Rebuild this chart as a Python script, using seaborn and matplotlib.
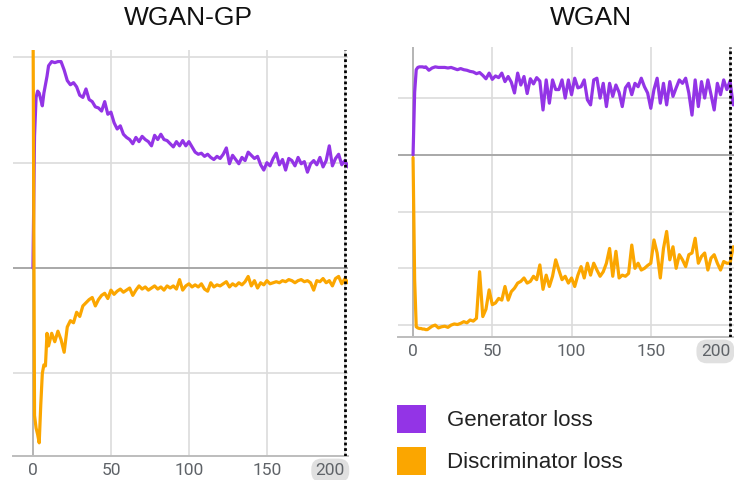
import matplotlib
matplotlib.use("Agg")
import matplotlib.pyplot as plt
import seaborn as sns
import pandas as pd
from matplotlib.patches import Patch

# ---------------- data ----------------
epochs = list(range(0, 11)) + list(range(12, 203, 2))

gp_generator = [
    0.00, 1.25, 1.62, 1.68, 1.66, 1.60, 1.54, 1.66, 1.74, 1.82, 1.92,
    1.96, 1.95, 1.96, 1.96, 1.88,
    1.78, 1.74, 1.76, 1.72, 1.64,
    1.62, 1.70, 1.60, 1.58, 1.53,
    1.52, 1.49, 1.58, 1.46, 1.48,
    1.38, 1.32, 1.35, 1.27, 1.24,
    1.22, 1.18, 1.24, 1.20, 1.25,
    1.22, 1.20, 1.16, 1.26, 1.22,
    1.27, 1.22, 1.21, 1.18, 1.15,
    1.20, 1.16, 1.21, 1.16, 1.20,
    1.15, 1.10, 1.08, 1.09, 1.06,
    1.08, 1.05, 1.03, 1.06, 1.04,
    1.08, 1.14, 0.99, 1.07, 1.03,
    0.99, 1.05, 1.02, 1.10, 1.07,
    1.04, 1.06, 0.98, 0.93, 1.00,
    0.97, 1.04, 1.09, 0.98, 1.03,
    0.93, 1.04, 1.02, 0.97, 1.05,
    0.99, 1.01, 0.91, 0.99, 1.02,
    0.98, 1.05, 0.96, 1.02, 1.16,
    0.97, 1.04, 1.08, 0.98, 1.02,
    0.96,
]

gp_discriminator = [
    2.60, -1.40, -1.52, -1.58, -1.66, -1.30, -1.00, -0.92, -0.93, -0.62, -0.74,
    -0.62, -0.70, -0.60, -0.68, -0.80,
    -0.56, -0.50, -0.52, -0.42, -0.46,
    -0.36, -0.33, -0.30, -0.28, -0.36,
    -0.30, -0.26, -0.24, -0.29, -0.21,
    -0.25, -0.22, -0.20, -0.23, -0.21,
    -0.19, -0.26, -0.21, -0.17, -0.20,
    -0.18, -0.21, -0.19, -0.17, -0.20,
    -0.18, -0.21, -0.17, -0.19, -0.17,
    -0.20, -0.11, -0.21, -0.17, -0.15,
    -0.18, -0.16, -0.18, -0.15, -0.20,
    -0.22, -0.14, -0.18, -0.16, -0.17,
    -0.15, -0.13, -0.18, -0.15, -0.17,
    -0.14, -0.16, -0.13, -0.08, -0.17,
    -0.12, -0.19, -0.14, -0.16, -0.12,
    -0.15, -0.14, -0.13, -0.14, -0.12,
    -0.13, -0.11, -0.12, -0.14, -0.12,
    -0.11, -0.13, -0.12, -0.14, -0.21,
    -0.12, -0.13, -0.10, -0.14, -0.12,
    -0.17, -0.10, -0.08, -0.15, -0.10,
    -0.14,
]

wgan_generator = [
    0.00, 1.10, 1.50, 1.54, 1.55, 1.55, 1.55, 1.54, 1.55, 1.52, 1.49,
    1.53, 1.55, 1.54, 1.54, 1.54,
    1.53, 1.54, 1.52, 1.50, 1.52,
    1.50, 1.49, 1.47, 1.46, 1.43,
    1.45, 1.40, 1.34, 1.44, 1.33,
    1.39, 1.36, 1.44, 1.29, 1.38,
    1.28, 1.09, 1.44, 1.23, 1.38,
    1.08, 1.34, 1.25, 1.36, 1.30,
    0.79, 1.32, 0.91, 1.32, 1.15,
    1.15, 1.32, 1.00, 1.32, 1.06,
    1.35, 1.18, 1.20, 1.32, 0.97,
    0.88, 1.32, 1.35, 1.00, 1.26,
    0.85, 1.26, 1.03, 1.23, 1.10,
    0.85, 1.18, 1.26, 1.06, 1.26,
    1.20, 1.35, 1.20, 1.09, 0.82,
    1.15, 1.35, 0.91, 1.26, 0.88,
    1.29, 1.03, 1.18, 1.32, 1.26,
    1.35, 1.09, 0.70, 1.32, 0.85,
    1.29, 1.00, 1.32, 1.06, 0.79,
    1.26, 1.06, 1.32, 1.15, 1.30,
    0.88,
]

wgan_discriminator = [
    -0.05, -2.20, -3.03, -3.05, -3.06, -3.06, -3.07, -3.07, -3.08, -3.08, -3.06,
    -3.02, -3.00, -3.05, -3.03, -3.02,
    -3.04, -3.00, -2.98, -2.99, -2.97,
    -2.94, -2.96, -2.91, -2.93, -2.88,
    -2.06, -2.85, -2.72, -2.38, -2.64,
    -2.61, -2.53, -2.56, -2.32, -2.56,
    -2.41, -2.35, -2.26, -2.23, -2.17,
    -2.26, -2.23, -2.14, -2.20, -1.94,
    -2.37, -2.12, -2.32, -2.14, -1.85,
    -2.03, -2.20, -2.14, -2.26, -2.17,
    -2.32, -2.12, -1.97, -2.17, -1.91,
    -2.12, -1.91, -2.03, -2.14, -2.06,
    -1.91, -1.65, -2.14, -1.70, -2.17,
    -2.12, -2.14, -2.09, -1.59, -2.00,
    -1.91, -2.03, -2.00, -1.95, -1.91,
    -1.50, -1.73, -2.17, -1.65, -1.35,
    -1.85, -1.62, -2.00, -1.76, -1.85,
    -1.97, -1.76, -1.73, -1.47, -1.91,
    -1.79, -1.73, -2.03, -1.82, -1.76,
    -1.91, -2.03, -1.88, -1.91, -1.91,
    -1.62,
]

series_names = ["Generator loss", "Discriminator loss"]
panel_titles = ["WGAN-GP", "WGAN"]
tick_values = [0, 50, 100, 150, 200]
tick_labels = ["0", "50", "100", "150", "200"]

# ---------------- style ----------------
sns.set_theme(style="white")
plt.rcParams["font.family"] = ["Liberation Sans", "DejaVu Sans"]

PURPLE = "#9334E6"
ORANGE = "#FBA600"
palette = {series_names[0]: PURPLE, series_names[1]: ORANGE}

fig = plt.figure(figsize=(7.34, 4.8), dpi=100)
W, H = 734, 480

def px_axes(x0, y0, x1, y1):
    return fig.add_axes([x0 / W, 1 - y1 / H, (x1 - x0) / W, (y1 - y0) / H])

ax1 = px_axes(13, 50, 348, 456)
ax2 = px_axes(398, 47, 734, 337)

panels = [
    (ax1, gp_generator, gp_discriminator, (-12.8, 202.0), (-1.785, 2.07), [-1, 0, 1, 2]),
    (ax2, wgan_generator, wgan_discriminator, (-9.5, 202.5), (-3.21, 1.90), [-3, -2, -1, 0, 1]),
]

for ax, gen, disc, xl, yl, yt in panels:
    n = len(epochs)
    df = pd.DataFrame({
        "epoch": epochs + epochs,
        "loss": gen + disc,
        "series": [series_names[0]] * n + [series_names[1]] * n,
    })
    ax.set_xticks(tick_values)
    ax.set_yticks(yt)
    ax.grid(True, color="#dcdcdc", lw=1.2)
    ax.set_axisbelow(True)
    ax.axhline(0, color="#a9a9a9", lw=1.4, zorder=1)
    ax.axvline(0, color="#b5b5b5", lw=1.4, zorder=1)
    sns.lineplot(data=df, x="epoch", y="loss", hue="series", hue_order=series_names,
                 palette=palette, estimator=None, lw=2.3, ax=ax, legend=False, zorder=3)
    ax.axvline(200, color="black", lw=2.0, ls=(0, (1, 1)), zorder=4)
    ax.set_xlim(*xl)
    ax.set_ylim(*yl)
    ax.set_xlabel("")
    ax.set_ylabel("")
    ax.set_yticklabels([])
    ax.set_xticklabels(tick_labels)
    for s in ["top", "left", "right"]:
        ax.spines[s].set_visible(False)
    ax.spines["bottom"].set_color("#bdbdbd")
    ax.spines["bottom"].set_linewidth(1.4)
    ax.tick_params(axis="x", length=0, pad=5, labelsize=12.5, labelcolor="#5f6368")
    ax.tick_params(axis="y", length=0)
    for lab in ax.get_xticklabels():
        lab.set_fontfamily(["Roboto", "DejaVu Sans"])
        if lab.get_text() == "200":
            lab.set_ha("right")
            lab.set_bbox(dict(boxstyle="round,pad=0.25,rounding_size=0.6",
                              fc="#e0e0e0", ec="none"))

fig.text(188 / W, 1 - 18 / H, panel_titles[0], ha="center", va="center",
         fontsize=19, color="#111111")
fig.text(591 / W, 1 - 18 / H, panel_titles[1], ha="center", va="center",
         fontsize=19, color="#111111")

handles = [Patch(facecolor=PURPLE, edgecolor="none"),
           Patch(facecolor=ORANGE, edgecolor="none")]
fig.legend(handles=handles, labels=series_names, loc="upper left",
           bbox_to_anchor=(397 / W, 1 - 405 / H), frameon=False,
           fontsize=16, handlelength=1.3, handleheight=1.56,
           handletextpad=0.95, labelspacing=0.62, borderpad=0,
           borderaxespad=0, labelcolor="#222222")

fig.savefig("out.png", dpi=100)
